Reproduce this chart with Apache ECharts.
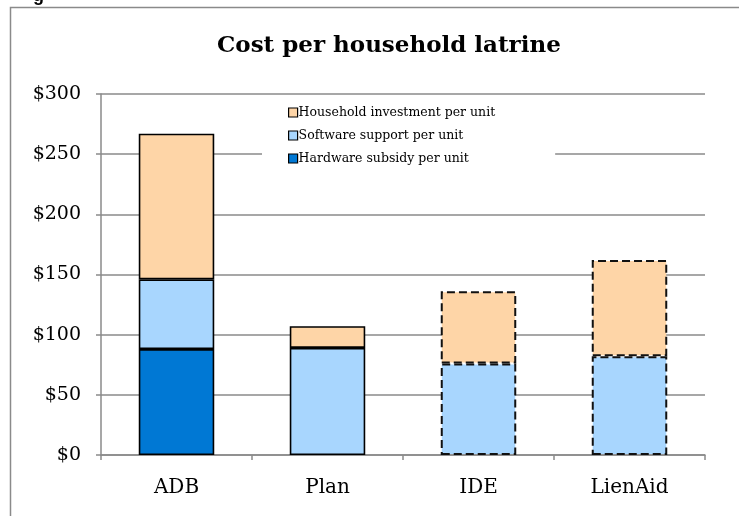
<!DOCTYPE html>
<html>
<head>
<meta charset="utf-8">
<script src="https://cdn.jsdelivr.net/npm/echarts@6/dist/echarts.min.js"></script>
<style>
html,body{margin:0;padding:0;background:#fff;}
#chart{width:739px;height:516px;}
</style>
</head>
<body>
<div id="chart"></div>
<script>
const titleText = 'Cost per household latrine';
const categories = ['ADB', 'Plan', 'IDE', 'LienAid'];
const seriesNames = ['Hardware subsidy per unit', 'Software support per unit', 'Household investment per unit'];
const hardware = [88, null, null, null];
const software = [58, 89, 76, 82];
const household = [121, 18, 60, 80];
const yMin = 0, yMax = 300, yInterval = 50;
const dashedCategories = ['IDE', 'LienAid'];

const colors = ['#0078D4', '#A8D6FE', '#FED5A7'];
const serif = '"DejaVu Serif", serif';

function buildData(values) {
  return values.map((v, i) => {
    const dashed = dashedCategories.indexOf(categories[i]) >= 0;
    return {
      value: v,
      itemStyle: dashed ? { borderType: [8, 4], borderWidth: 2, borderColor: '#111' } : { borderType: 'solid' }
    };
  });
}

const chart = echarts.init(document.getElementById('chart'), null, { renderer: 'canvas' });
const valuesList = [hardware, software, household];
chart.setOption({
  animation: false,
  backgroundColor: '#fff',
  title: {
    text: titleText,
    left: 212,
    top: 30,
    textStyle: { fontFamily: serif, fontWeight: 'bold', fontSize: 23, color: '#000' }
  },
  grid: { left: 101, right: 34, top: 94, bottom: 61, containLabel: false },
  legend: {
    orient: 'vertical',
    left: 262,
    top: 99,
    padding: [7, 60, 9, 26],
    backgroundColor: '#fff',
    z: 10,
    itemWidth: 9,
    itemHeight: 9,
    itemGap: 10,
    icon: 'rect',
    data: [seriesNames[2], seriesNames[1], seriesNames[0]],
    itemStyle: { borderColor: '#000', borderWidth: 1.2, borderType: 'solid' },
    textStyle: { fontFamily: serif, fontSize: 12.5, color: '#000', padding: [0, 0, 0, -4] }
  },
  xAxis: {
    type: 'category',
    data: categories,
    axisLine: { lineStyle: { color: '#8a8a8a', width: 1.5 } },
    axisTick: { show: true, interval: 0, length: 5, lineStyle: { color: '#8a8a8a', width: 1.5 } },
    axisLabel: { fontFamily: serif, fontSize: 20, color: '#000', margin: 23 }
  },
  yAxis: {
    type: 'value',
    min: yMin,
    max: yMax,
    interval: yInterval,
    axisLine: { show: true, lineStyle: { color: '#8a8a8a', width: 1.5 } },
    axisTick: { show: true, length: 5, lineStyle: { color: '#8a8a8a', width: 1.5 } },
    splitLine: { lineStyle: { color: '#8a8a8a', width: 1.5 } },
    axisLabel: { fontFamily: serif, fontSize: 19, color: '#000', margin: 20, formatter: v => '$' + v }
  },
  graphic: [
    { type: 'rect', left: 8, top: 5, z: 0, silent: true,
      shape: { width: 800, height: 600 },
      style: { fill: 'none', stroke: '#8a8a8a', lineWidth: 1.5 } },
    { type: 'text', left: 33, top: -13, z: 100,
      style: { text: 'g', font: 'bold 18px "Liberation Sans", Arial, sans-serif', fill: '#000' } }
  ],
  series: valuesList.map((vals, k) => ({
    name: seriesNames[k],
    type: 'bar',
    stack: 'total',
    barWidth: '50%',
    data: buildData(vals),
    itemStyle: { color: colors[k], borderColor: '#000', borderWidth: 1.6 },
    z: 3
  }))
});
</script>
</body>
</html>
